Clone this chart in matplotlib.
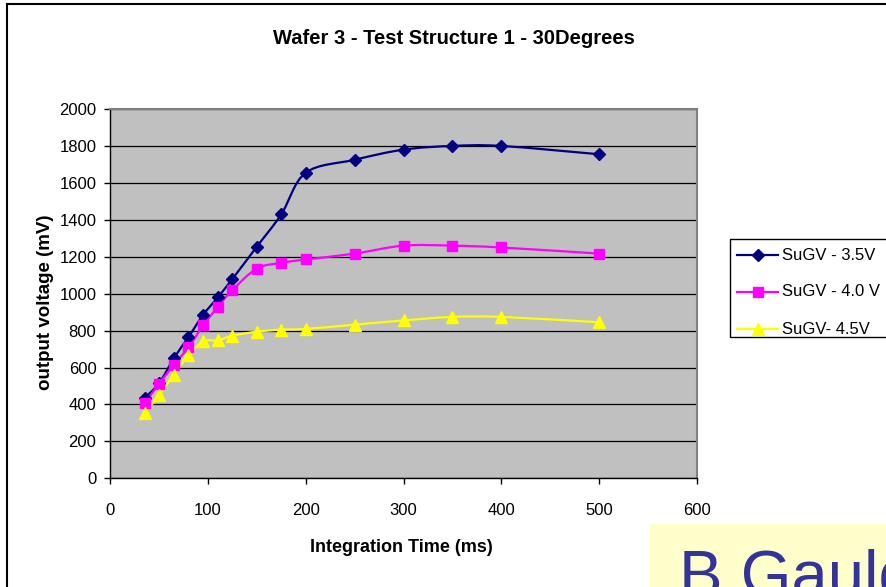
import numpy as np
import matplotlib
matplotlib.use("Agg")
import matplotlib.pyplot as plt
from matplotlib.path import Path
from matplotlib.patches import PathPatch, Rectangle
from matplotlib.lines import Line2D

# Measurements: integration time (ms) vs output voltage (mV)
time_35 = [35, 50, 65, 80, 95, 110, 125, 150, 175, 200, 250, 300, 350, 400, 500]
sugv_35 = [435, 515, 650, 765, 885, 980, 1080, 1255, 1430, 1655, 1725, 1780, 1800, 1800, 1755]

time_40 = [35, 50, 65, 80, 95, 110, 125, 150, 175, 200, 250, 300, 350, 400, 500]
sugv_40 = [407, 512, 615, 709, 828, 928, 1020, 1136, 1167, 1185, 1217, 1260, 1260, 1250, 1217]

time_45 = [35, 50, 65, 80, 95, 110, 125, 150, 175, 200, 250, 300, 350, 400, 500]
sugv_45 = [353, 450, 561, 666, 741, 747, 772, 794, 805, 809, 832, 855, 874, 874, 845]

series_labels = ["SuGV - 3.5V", "SuGV - 4.0 V", "SuGV- 4.5V"]
series_colors = ["#000080", "#FF00FF", "#FFFF00"]
series_markers = ["D", "s", "^"]
marker_sizes = [6.5, 7, 8]

title = "Wafer 3 - Test Structure 1 - 30Degrees"
x_label = "Integration Time (ms)"
y_label = "output voltage (mV)"
x_ticks = [0, 100, 200, 300, 400, 500, 600]
y_ticks = list(range(0, 2001, 200))

W, H = 886, 587
plt.rcParams["font.family"] = ["Liberation Sans", "DejaVu Sans"]

fig = plt.figure(figsize=(W / 100, H / 100), dpi=100)


def fx(px):
    return px / W


def fy(py):
    return 1 - py / H


def smooth_path(x, y):
    """Catmull-Rom style cubic Bezier through every point."""
    pts = np.column_stack([x, y]).astype(float)
    n = len(pts)
    verts = [pts[0]]
    codes = [Path.MOVETO]
    for i in range(n - 1):
        p0 = pts[max(i - 1, 0)]
        p1 = pts[i]
        p2 = pts[i + 1]
        p3 = pts[min(i + 2, n - 1)]
        c1 = p1 + (p2 - p0) / 6.0
        c2 = p2 - (p3 - p1) / 6.0
        verts += [c1, c2, p2]
        codes += [Path.CURVE4] * 3
    return Path(verts, codes)


# outer chart frame (extends past the canvas on the right and bottom)
fig.patches.append(Rectangle((fx(7), fy(1200)), fx(1200), fy(4) - fy(1200),
                             transform=fig.transFigure, fill=False,
                             edgecolor="black", linewidth=1.5, clip_on=False))

left, right, top, bottom = 110.3, 696.7, 109, 478.3
ax = fig.add_axes([fx(left), fy(bottom), fx(right) - fx(left), fy(top) - fy(bottom)])
ax.set_facecolor("#C0C0C0")
ax.set_xlim(0, 600)
ax.set_ylim(0, 2000)
ax.set_xticks(x_ticks)
ax.set_yticks(y_ticks)
ax.yaxis.grid(True, color="black", linewidth=0.9)
ax.set_axisbelow(True)
for side in ("left", "bottom"):
    ax.spines[side].set_color("black")
    ax.spines[side].set_linewidth(1.0)
for side in ("top", "right"):
    ax.spines[side].set_color("#808080")
    ax.spines[side].set_linewidth(1.5)
ax.tick_params(direction="out", length=4, width=1, colors="black", labelsize=12)
ax.tick_params(axis="x", pad=14)
ax.tick_params(axis="y", pad=6)

all_x = [time_35, time_40, time_45]
all_y = [sugv_35, sugv_40, sugv_45]
for xs, ys, c, m, ms in zip(all_x, all_y, series_colors, series_markers, marker_sizes):
    ax.add_patch(PathPatch(smooth_path(xs, ys), facecolor="none", edgecolor=c,
                           linewidth=1.6, zorder=3))
    ax.plot(xs, ys, linestyle="none", marker=m, markersize=ms, color=c,
            markeredgecolor=c, zorder=4)

fig.text(fx(454), fy(38), title, ha="center", va="center",
         fontsize=14.5, fontweight="bold")
fig.text(fx(401), fy(548), x_label, ha="center", va="center",
         fontsize=13, fontweight="bold")
fig.text(fx(46), fy(302), y_label, ha="center", va="center", rotation=90,
         fontsize=13.5, fontweight="bold")

# legend box
legend_box = Rectangle((fx(730), fy(337)), fx(1000), fy(239) - fy(337),
                       transform=fig.transFigure, facecolor="white",
                       edgecolor="black", linewidth=1.0, clip_on=False)
fig.patches.append(legend_box)
for i, (lab, c, m, ms) in enumerate(zip(series_labels, series_colors,
                                         series_markers, marker_sizes)):
    yy = fy(255 + i * 37)
    fig.lines.append(Line2D([fx(737), fx(778)], [yy, yy], transform=fig.transFigure,
                            color=c, linewidth=1.6))
    fig.lines.append(Line2D([fx(757.5)], [yy], transform=fig.transFigure,
                            marker=m, markersize=ms, color=c, markeredgecolor=c))
    fig.text(fx(782), yy, lab, ha="left", va="center", fontsize=12)

# author caption box, running off the lower-right corner
fig.patches.append(Rectangle((fx(650), fy(1000)), fx(1000), fy(524) - fy(1000),
                             transform=fig.transFigure, facecolor="#FFFFCC",
                             edgecolor="none", clip_on=False))
fig.text(fx(679), fy(595), "B Gauld", ha="left", va="baseline",
         fontsize=47, color="#333399")

fig.savefig("out.png", dpi=100)
